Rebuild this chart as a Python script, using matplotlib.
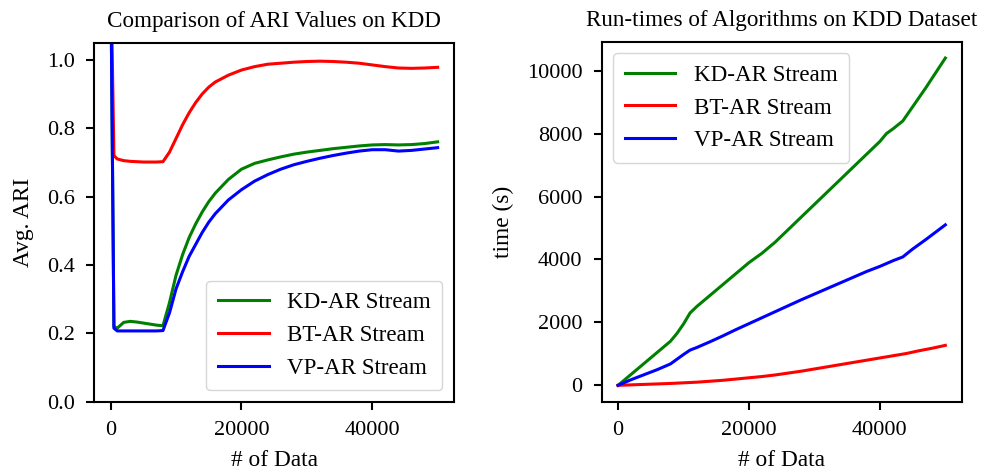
import matplotlib
matplotlib.use("Agg")
import matplotlib.pyplot as plt

plt.rcParams['font.family'] = ['Liberation Serif', 'DejaVu Serif']
plt.rcParams['mathtext.fontset'] = 'stix'

# ---- Left panel data: ARI ----
ari_x = [0, 500, 1000, 2000, 3000, 4000, 5000, 6000, 7000, 8000, 9000, 10000,
         11000, 12000, 13000, 14000, 15000, 16000, 18000, 20000, 22000, 24000,
         26000, 28000, 30000, 32000, 34000, 36000, 38000, 40000, 42000, 44000,
         46000, 48000, 50000]
ari_kd = [1.3, 0.22, 0.215, 0.232, 0.235, 0.233, 0.230, 0.227, 0.224, 0.222, 0.29,
          0.37, 0.43, 0.48, 0.52, 0.555, 0.585, 0.61, 0.65, 0.68, 0.697, 0.707,
          0.716, 0.724, 0.730, 0.735, 0.740, 0.744, 0.748, 0.751, 0.752, 0.751,
          0.752, 0.755, 0.760]
ari_bt = [1.3, 0.72, 0.71, 0.705, 0.703, 0.702, 0.701, 0.701, 0.701, 0.702, 0.73,
          0.77, 0.81, 0.845, 0.875, 0.90, 0.92, 0.935, 0.955, 0.97, 0.98, 0.987,
          0.99, 0.993, 0.995, 0.996, 0.995, 0.993, 0.99, 0.985, 0.98, 0.976,
          0.975, 0.976, 0.978]
ari_vp = [1.3, 0.215, 0.207, 0.207, 0.207, 0.207, 0.207, 0.207, 0.207, 0.208, 0.26,
          0.33, 0.38, 0.425, 0.46, 0.495, 0.525, 0.55, 0.59, 0.62, 0.645, 0.664,
          0.68, 0.693, 0.703, 0.712, 0.720, 0.727, 0.733, 0.737, 0.737, 0.733,
          0.735, 0.739, 0.743]

# ---- Right panel data: run-times ----
kd_x = [0, 2000, 4000, 6000, 8000, 9000, 10000, 11000, 12000, 14000, 16000, 18000,
        20000, 22000, 24000, 26000, 28000, 30000, 32000, 34000, 36000, 38000,
        40000, 41000, 42000, 43500, 45000, 47000, 50000]
kd_t = [0, 350, 700, 1050, 1400, 1650, 1950, 2300, 2500, 2850, 3200, 3550, 3900,
        4200, 4550, 4950, 5350, 5750, 6150, 6550, 6950, 7350, 7750, 8000, 8150,
        8400, 8850, 9450, 10400]
vp_x = [0, 2000, 4000, 6000, 8000, 9000, 10000, 11000, 12000, 14000, 16000, 18000,
        20000, 22000, 24000, 26000, 28000, 30000, 32000, 34000, 36000, 38000,
        40000, 42000, 43500, 45000, 47000, 50000]
vp_t = [0, 180, 340, 500, 680, 830, 980, 1120, 1200, 1380, 1570, 1770, 1960, 2150,
        2340, 2530, 2720, 2900, 3080, 3260, 3440, 3620, 3780, 3960, 4080, 4330,
        4630, 5100]
bt_x = [0, 2000, 4000, 6000, 8000, 10000, 12000, 14000, 16000, 18000, 20000, 22000,
        24000, 26000, 28000, 30000, 32000, 34000, 36000, 38000, 40000, 42000,
        44000, 46000, 48000, 50000]
bt_t = [0, 15, 30, 45, 60, 80, 100, 130, 160, 200, 240, 280, 330, 390, 450, 520,
        590, 660, 730, 800, 870, 940, 1010, 1100, 1180, 1270]

labels = ['KD-AR Stream', 'BT-AR Stream', 'VP-AR Stream']
colors = ['green', 'red', 'blue']

fig = plt.figure(figsize=(9.9, 4.75), dpi=100)
ax1 = fig.add_axes([94.3 / 990, (475 - 401.7) / 475, (454 - 94.3) / 990, (401.7 - 42.7) / 475])
ax2 = fig.add_axes([601.7 / 990, (475 - 401.7) / 475, (961.7 - 601.7) / 990, (401.7 - 41.7) / 475])

fs_tick = 16
fs_lab = 16.8
fs_title = 16.7
fs_leg = 16.6

for ys, lab, c in zip([ari_kd, ari_bt, ari_vp], labels, colors):
    ax1.plot(ari_x, ys, color=c, lw=2.2, label=lab)
ax1.set_ylim(0, 1.05)
ax1.set_xlim(-2500, 52500)
ax1.set_xticks([0, 20000, 40000])
ax1.set_yticks([0.0, 0.2, 0.4, 0.6, 0.8, 1.0])
ax1.set_title('Comparison of ARI Values on KDD', fontsize=fs_title, pad=11)
ax1.set_xlabel('# of Data', fontsize=fs_lab, labelpad=7)
ax1.set_ylabel('Avg. ARI', fontsize=fs_lab, labelpad=9)
ax1.legend(loc='lower right', fontsize=fs_leg, handlelength=2.2, borderpad=0.5)

for xs, ys, lab, c in zip([kd_x, bt_x, vp_x], [kd_t, bt_t, vp_t], labels, colors):
    ax2.plot(xs, ys, color=c, lw=2.2, label=lab)
ax2.set_xlim(-2500, 52500)
ax2.set_ylim(-520, 10920)
ax2.set_xticks([0, 20000, 40000])
ax2.set_yticks([0, 2000, 4000, 6000, 8000, 10000])
ax2.set_title('Run-times of Algorithms on KDD Dataset', fontsize=fs_title, pad=11)
ax2.set_xlabel('# of Data', fontsize=fs_lab, labelpad=7)
ax2.set_ylabel('time (s)', fontsize=fs_lab, labelpad=9)
ax2.legend(loc='upper left', fontsize=fs_leg, handlelength=2.2, borderpad=0.5)

for ax in (ax1, ax2):
    ax.tick_params(labelsize=fs_tick, width=1.5, length=6, pad=8)
    for s in ax.spines.values():
        s.set_linewidth(1.5)

fig.savefig('out.png', dpi=100)
